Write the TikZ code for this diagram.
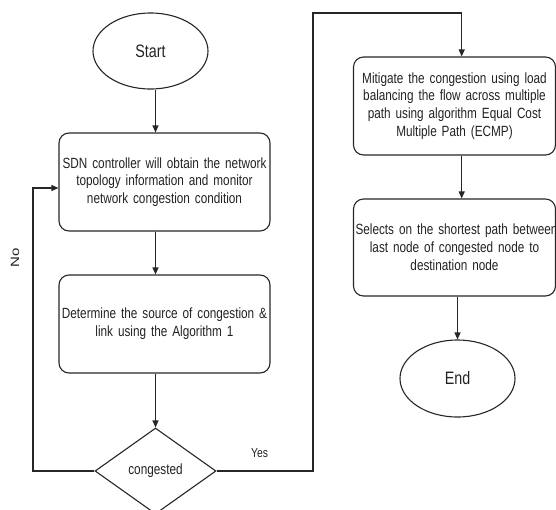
\documentclass[tikz,border=0pt]{standalone}
\usepackage{fontspec}
\setmainfont{Liberation Sans}[FakeStretch=0.795]
\newfontfamily\widefont{Liberation Sans}[FakeStretch=1.25]
\usetikzlibrary{shapes.geometric,arrows.meta}
\definecolor{linec}{HTML}{262626}
\definecolor{textc}{HTML}{222222}
\newcommand{\boxfont}{\fontsize{14.8}{17.8}\selectfont}
\newcommand{\termfont}{\fontsize{18}{20}\selectfont}
\newcommand{\lblfont}{\fontsize{13}{15}\selectfont}
\newcommand{\sidefont}{\widefont\fontsize{12}{14}\selectfont}
\begin{document}
\begin{tikzpicture}[x=1pt,y=-1pt,
  procbox/.style={draw=linec, line width=1.1pt, rounded corners=10pt, inner sep=2pt,
    align=center, font=\boxfont, text=textc, minimum height=98pt},
  term/.style={draw=linec, line width=1.1pt, ellipse, minimum width=115pt,
    minimum height=76pt, inner sep=0pt, font=\termfont, text=textc},
  decision/.style={draw=linec, line width=1.1pt, diamond, minimum width=121pt,
    minimum height=86pt, inner sep=0pt, font=\boxfont, text=textc},
  arr/.style={draw=linec, line width=1.1pt, -{Triangle[length=7pt,width=6pt]}},
  lbl/.style={font=\lblfont, text=textc, inner sep=0pt}]
\useasboundingbox (0,0) rectangle (556,509);

% left column
\node[term] (start) at (150.5,51) {Start};
\node[procbox, text width=207pt] (b1) at (164.5,182)
  {\mbox{SDN controller will obtain the network}\\\mbox{topology information and monitor}\\\mbox{network congestion condition}};
\node[procbox, text width=207pt] (b2) at (164.5,324)
  {\mbox{Determine the source of congestion \&}\\\mbox{link using the Algorithm 1}};
\node[decision] (dec) at (155.5,471) {congested};

% right column
\node[procbox, text width=198pt] (b3) at (454.5,106)
  {\mbox{Mitigate the congestion using load}\\\mbox{balancing the flow across multiple}\\\mbox{path using algorithm Equal Cost}\\\mbox{Multiple Path (ECMP)}};
\node[procbox, text width=198pt, minimum height=97pt] (b4) at (454.5,247.5)
  {\mbox{Selects on the shortest path between}\\\mbox{last node of congested node to}\\\mbox{destination node}};
\node[term, minimum height=77pt] (end) at (457.5,378.5) {End};

% routing points
\coordinate (noL) at (33,471);
\coordinate (noU) at (33,188);
\coordinate (yesR) at (313,471);
\coordinate (yesU) at (313,13);
\coordinate (yesT) at (461.7,13);

% connectors
\draw[arr] (start.south -| dec.north) -- (b1.north -| dec.north);
\draw[arr] (b1.south -| dec.north) -- (b2.north -| dec.north);
\draw[arr] (b2.south -| dec.north) -- (dec.north);
\draw[arr] (dec.west) -- (noL) -- (noU) -- (b1.west |- noU);
\draw[arr] (dec.east) -- (yesR) -- (yesU) -- (yesT) -- (b3.north -| yesT);
\draw[arr] (b3.south -| yesT) -- (b4.north -| yesT);
\draw[arr] (b4.south -| end.north) -- (end.north);

% branch labels
\node[lbl, font=\sidefont, rotate=90] (nolbl) at (15,257.5) {No};
\node[lbl] (yeslbl) at (259.5,453) {Yes};
\end{tikzpicture}
\end{document}
